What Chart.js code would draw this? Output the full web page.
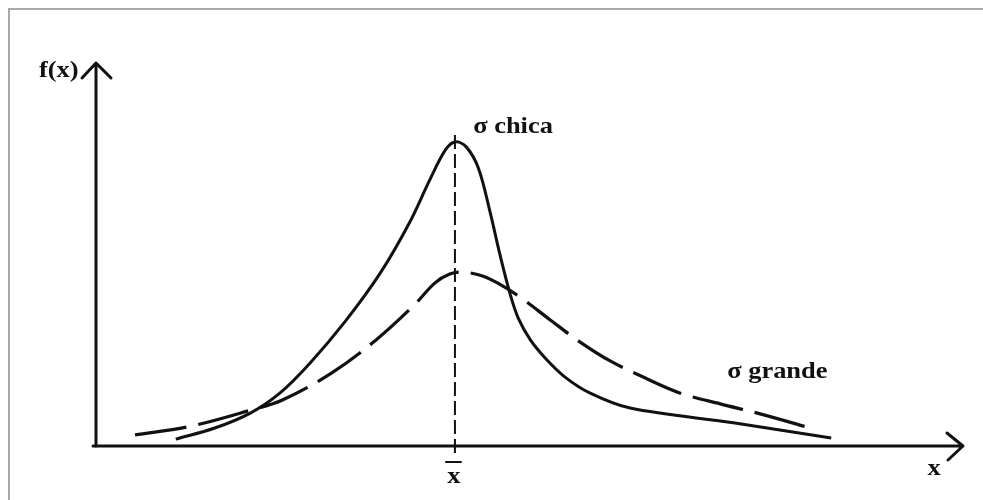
<!DOCTYPE html>
<html>
<head>
<meta charset="utf-8">
<title>σ chica / σ grande</title>
<script src="https://cdn.jsdelivr.net/npm/chart.js@4.4.0/dist/chart.umd.min.js"></script>
<style>
  body { margin: 0; background: #fff; }
  #marco { position: absolute; left: 8px; top: 8px; width: 975px; height: 492px;
           border-left: 2px solid #a9a9a9; border-top: 2px solid #a9a9a9; box-sizing: border-box; }
  #caja { position: absolute; left: 0; top: 0; width: 983px; height: 500px; }
</style>
</head>
<body>
<div id="marco"></div>
<div id="caja"><canvas id="curvas" width="983" height="500"></canvas></div>
<script>
// curva de sigma chica (linea continua)
var chicaX = [9.2, 13.7, 17.8, 21.2, 24.7, 28.7, 32.8, 36.2, 38.5, 40.3, 41.4, 42.7, 44.1, 45.4, 46.6, 47.8, 48.7, 50.1, 51.8, 54.1, 57.0, 61.6, 73.7, 84.8];
var chicaY = [1.8, 4.7, 8.6, 13.8, 21.7, 32.4, 45.2, 58.5, 69.5, 77.3, 79.4, 78.1, 72.6, 61.6, 49.9, 39.4, 33.4, 27.7, 23.0, 18.0, 13.8, 9.9, 6.0, 2.1];

// curva de sigma grande (linea discontinua)
var grandeX = [4.5, 10.6, 17.9, 21.5, 27.2, 32.3, 36.7, 39.1, 40.8, 42.2, 44.3, 46.3, 48.9, 52.4, 55.8, 59.3, 63.3, 67.4, 72.0, 76.6, 82.4];
var grandeY = [2.9, 5.0, 9.4, 12.0, 19.1, 27.7, 36.8, 42.6, 44.9, 45.4, 44.6, 42.6, 38.9, 32.9, 27.2, 22.2, 17.8, 13.8, 11.0, 8.4, 4.7];

// media (linea vertical punteada)
var media = 41.4;
var mediaY = [81.2, -3.1];

var etiquetaChica = 'σ chica';
var etiquetaGrande = 'σ grande';
var etiquetaEjeY = 'f(x)';
var etiquetaEjeX = 'x';
var etiquetaMedia = 'x';

function puntos(xs, ys) {
  var out = [];
  for (var i in xs) {
    out.push({ x: xs[i], y: ys[i] });
  }
  return out;
}

var fuente = 'bold 23px "Liberation Serif", "Times New Roman", serif';

function texto(ctx, t, x, y, align) {
  ctx.save();
  ctx.translate(x, y);
  ctx.scale(1.15, 1);
  ctx.textAlign = align || 'left';
  ctx.textBaseline = 'alphabetic';
  ctx.fillText(t, 0, 0);
  ctx.restore();
}

// ejes con flechas y textos
var ejesPlugin = {
  id: 'ejes',
  afterDraw: function(chart) {
    var ctx = chart.ctx;
    var a = chart.chartArea;
    var sx = chart.scales.x;
    var sy = chart.scales.y;
    ctx.save();
    ctx.strokeStyle = '#111';
    ctx.fillStyle = '#111';
    ctx.lineWidth = 3;
    ctx.lineCap = 'round';
    ctx.lineJoin = 'round';

    // eje y
    ctx.beginPath();
    ctx.moveTo(a.left, a.bottom);
    ctx.lineTo(a.left, a.top);
    ctx.moveTo(a.left - 14, a.top + 15);
    ctx.lineTo(a.left, a.top);
    ctx.lineTo(a.left + 15, a.top + 15);
    ctx.stroke();

    // eje x
    ctx.beginPath();
    ctx.moveTo(a.left - 3, a.bottom);
    ctx.lineTo(a.right, a.bottom);
    ctx.moveTo(a.right - 16, a.bottom - 13);
    ctx.lineTo(a.right, a.bottom);
    ctx.lineTo(a.right - 15, a.bottom + 14);
    ctx.stroke();

    // barra de la media
    var mx = sx.getPixelForValue(media);
    ctx.lineWidth = 2;
    ctx.beginPath();
    ctx.moveTo(mx - 9, a.bottom + 16);
    ctx.lineTo(mx + 6, a.bottom + 16);
    ctx.stroke();

    ctx.font = fuente;
    texto(ctx, etiquetaChica, sx.getPixelForValue(43.5), sy.getPixelForValue(81.7));
    texto(ctx, etiquetaGrande, sx.getPixelForValue(72.8), sy.getPixelForValue(17.8));
    texto(ctx, etiquetaEjeY, a.left - 57, a.top + 14);
    texto(ctx, etiquetaEjeX, a.right - 29, a.bottom + 29, 'center');
    texto(ctx, etiquetaMedia, mx - 1, a.bottom + 37, 'center');
    ctx.restore();
  }
};

var ctx = document.getElementById('curvas');

var grafico = new Chart(ctx, {
  type: 'line',
  data: {
    datasets: [
      {
        label: etiquetaChica,
        data: puntos(chicaX, chicaY),
        borderColor: '#111',
        borderWidth: 3,
        tension: 0.35,
        pointRadius: 0
      },
      {
        label: etiquetaGrande,
        data: puntos(grandeX, grandeY),
        borderColor: '#111',
        borderWidth: 3.2,
        borderDash: [52, 12],
        tension: 0.35,
        pointRadius: 0
      },
      {
        label: 'media',
        data: puntos([media, media], mediaY),
        borderColor: '#111',
        borderWidth: 2,
        borderDash: [14, 5],
        pointRadius: 0,
        clip: false
      }
    ]
  },
  options: {
    responsive: false,
    animation: false,
    layout: { padding: { left: 96, right: 20, top: 63, bottom: 54 } },
    plugins: { legend: { display: false }, tooltip: { enabled: false } },
    scales: {
      x: { type: 'linear', min: 0, max: 100, display: false },
      y: { type: 'linear', min: 0, max: 100, display: false }
    }
  },
  plugins: [ejesPlugin]
});
</script>
</body>
</html>
